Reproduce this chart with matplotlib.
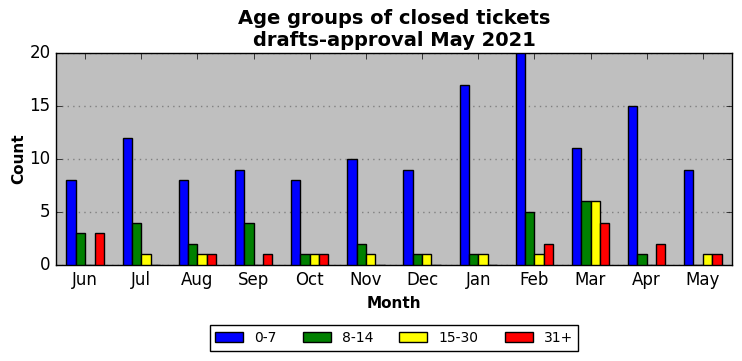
import numpy as np
import matplotlib
matplotlib.use("Agg")
import matplotlib.pyplot as plt

plt.style.use('classic')

months = ['Jun', 'Jul', 'Aug', 'Sep', 'Oct', 'Nov', 'Dec', 'Jan', 'Feb', 'Mar', 'Apr', 'May']
age_groups = ['0-7', '8-14', '15-30', '31+']
colors = ['blue', 'green', 'yellow', 'red']

counts_0_7 = [8, 12, 8, 9, 8, 10, 9, 17, 20, 11, 15, 9]
counts_8_14 = [3, 4, 2, 4, 1, 2, 1, 1, 5, 6, 1, 0]
counts_15_30 = [0, 1, 1, 0, 1, 1, 1, 1, 1, 6, 0, 1]
counts_31 = [3, 0, 1, 1, 1, 0, 0, 0, 2, 4, 2, 1]

series = [counts_0_7, counts_8_14, counts_15_30, counts_31]

fig = plt.figure(figsize=(7.42, 3.61), dpi=100, facecolor='white')
ax = fig.add_axes([56 / 742, 1 - 265 / 361, (732 - 56) / 742, (265 - 53) / 361])
ax.set_facecolor('#bfbfbf')

x = np.arange(len(months))
width = 1 / 6
for i, (vals, lab, c) in enumerate(zip(series, age_groups, colors)):
    ax.bar(x + (i - 1.5) * width, vals, width, color=c, edgecolor='black',
           linewidth=1, label=lab, zorder=3)

ax.set_xticks(x)
ax.set_xticklabels(months)
ax.set_xlim(-0.52, 11.52)
ax.set_ylim(0, 20)
ax.set_yticks([0, 5, 10, 15, 20])
ax.yaxis.grid(True, color='gray', linestyle=':', linewidth=1, zorder=0)
ax.xaxis.grid(False)
ax.set_axisbelow(True)

ax.set_title('Age groups of closed tickets\ndrafts-approval May 2021',
             fontsize=14, fontweight='bold')
ax.set_xlabel('Month', fontsize=11, fontweight='bold')
ax.set_ylabel('Count', fontsize=11, fontweight='bold', labelpad=2)

ax.legend(loc='upper center', bbox_to_anchor=(0.5, -0.285), ncol=4,
          fontsize=10, frameon=True, handlelength=2.0, columnspacing=1.9,
          borderaxespad=0)

fig.savefig('out.png', dpi=100, facecolor='white')
